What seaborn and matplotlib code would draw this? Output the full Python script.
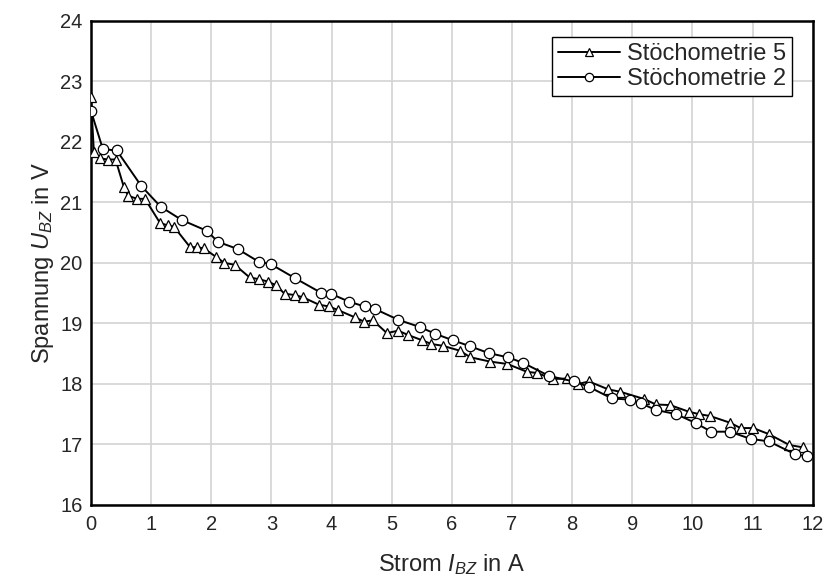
import matplotlib
matplotlib.use("Agg")
import matplotlib.pyplot as plt
import seaborn as sns
import pandas as pd
from matplotlib.ticker import MultipleLocator

# Stöchometrie 5 (triangles)
x_s5 = [0.0, 0.05, 0.15, 0.28, 0.41, 0.55, 0.62, 0.77, 0.90, 1.15, 1.28, 1.38,
        1.65, 1.77, 1.88, 2.08, 2.22, 2.39, 2.64, 2.80, 2.95, 3.08, 3.22, 3.39,
        3.53, 3.79, 3.96, 4.11, 4.39, 4.54, 4.69, 4.92, 5.11, 5.27, 5.51, 5.66,
        5.85, 6.13, 6.31, 6.63, 6.92, 7.25, 7.42, 7.68, 7.92, 8.10, 8.28, 8.60,
        8.80, 9.20, 9.39, 9.63, 9.94, 10.11, 10.29, 10.62, 10.80, 11.01, 11.27,
        11.61, 11.84]
y_s5 = [22.75, 21.84, 21.73, 21.71, 21.71, 21.25, 21.11, 21.06, 21.06, 20.66,
        20.62, 20.60, 20.26, 20.26, 20.24, 20.10, 20.00, 19.97, 19.76, 19.73,
        19.69, 19.63, 19.49, 19.47, 19.43, 19.31, 19.28, 19.22, 19.10, 19.03,
        19.05, 18.84, 18.88, 18.81, 18.72, 18.66, 18.63, 18.55, 18.44, 18.37,
        18.33, 18.20, 18.18, 18.08, 18.09, 18.00, 18.04, 17.91, 17.87, 17.75,
        17.66, 17.65, 17.54, 17.50, 17.47, 17.36, 17.27, 17.27, 17.17, 16.99,
        16.95]

# Stöchometrie 2 (circles)
x_s2 = [0.0, 0.20, 0.43, 0.84, 1.16, 1.51, 1.93, 2.11, 2.44, 2.79, 2.99, 3.39,
        3.82, 3.99, 4.29, 4.55, 4.72, 5.11, 5.47, 5.72, 6.02, 6.31, 6.61, 6.93,
        7.18, 7.62, 8.03, 8.28, 8.66, 8.96, 9.14, 9.39, 9.73, 10.06, 10.31,
        10.62, 10.97, 11.27, 11.70, 11.91]
y_s2 = [22.52, 21.88, 21.86, 21.27, 20.93, 20.71, 20.53, 20.35, 20.23, 20.02,
        19.98, 19.75, 19.51, 19.49, 19.36, 19.28, 19.24, 19.06, 18.94, 18.83,
        18.72, 18.62, 18.51, 18.44, 18.35, 18.13, 18.04, 17.95, 17.76, 17.74,
        17.68, 17.57, 17.50, 17.35, 17.21, 17.21, 17.09, 17.05, 16.84, 16.80]

labels = ["Stöchometrie 5", "Stöchometrie 2"]
x_ticks = list(range(0, 13))
y_ticks = list(range(16, 25))

sns.set_style("white")
plt.rcParams["font.family"] = ["Liberation Sans", "DejaVu Sans"]
plt.rcParams["mathtext.fontset"] = "custom"
plt.rcParams["mathtext.rm"] = "Liberation Sans"
plt.rcParams["mathtext.it"] = "Liberation Sans:italic"

fig = plt.figure(figsize=(8.26, 5.83), dpi=100)
ax = fig.add_axes([0.110, 0.134, 0.874, 0.830])

df5 = pd.DataFrame({"x": x_s5, "y": y_s5})
df2 = pd.DataFrame({"x": x_s2, "y": y_s2})

common = dict(color="black", linewidth=1.4, markersize=7.5,
              markerfacecolor="white", markeredgecolor="black",
              markeredgewidth=0.9, estimator=None, sort=False, ax=ax, zorder=3)
sns.lineplot(data=df5, x="x", y="y", marker="^", label=labels[0], **common)
sns.lineplot(data=df2, x="x", y="y", marker="o", label=labels[1], **common)

ax.set_xlim(0, 12)
ax.set_ylim(16, 24)
ax.set_xticks(x_ticks)
ax.set_yticks(y_ticks)
ax.xaxis.set_minor_locator(MultipleLocator(0.5))
ax.yaxis.set_minor_locator(MultipleLocator(0.5))
ax.tick_params(which="major", direction="in", length=7, width=1.5,
               labelsize=14.5, top=False, right=False, pad=7)
ax.tick_params(which="minor", direction="in", length=4, width=1.2,
               top=False, right=False)
ax.tick_params(axis="y", which="major", pad=6)
ax.grid(True, which="major", color="#d3d3d3", linewidth=1.2, zorder=0)
ax.set_axisbelow(True)
for s in ax.spines.values():
    s.set_linewidth(1.8)
    s.set_color("black")

ax.set_xlabel("Strom $I_{BZ}$ in A", fontsize=17, labelpad=13)
ax.set_ylabel("Spannung $U_{BZ}$ in V", fontsize=17, labelpad=3)

leg = ax.legend(loc="upper right", bbox_to_anchor=(0.971, 0.967),
                fontsize=17, frameon=True, fancybox=False, framealpha=1,
                edgecolor="black", handlelength=2.6, borderpad=0.25,
                labelspacing=0.15, handletextpad=0.3, borderaxespad=0)
leg.get_frame().set_linewidth(1.0)
for h in leg.legend_handles:
    h.set_markersize(6)

fig.savefig("out.png", dpi=100)
